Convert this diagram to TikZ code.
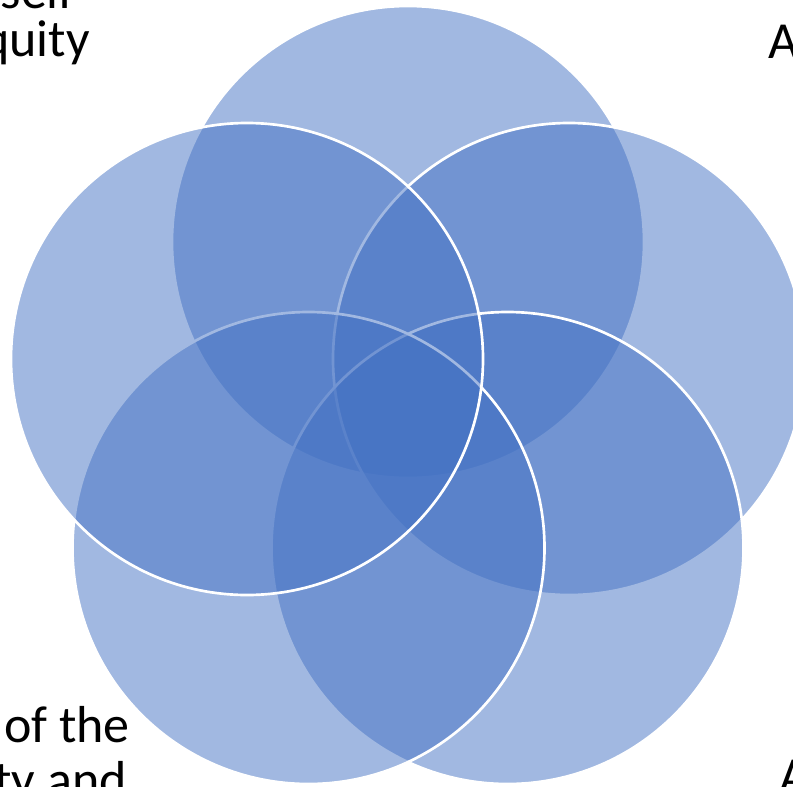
\documentclass[tikz,border=0pt]{standalone}
\usepackage{fontspec}
\setmainfont{Carlito}
\definecolor{vennblue}{HTML}{4472C4}
\begin{document}
\begin{tikzpicture}[x=0.75pt,y=-0.75pt,
  venn/.style={circle, draw=white, line width=2pt, fill=vennblue, fill opacity=0.5, draw opacity=1, inner sep=0pt, minimum size=354pt},
  lbl/.style={font=\fontsize{39}{46}\selectfont, inner sep=0pt, text=black}]
\useasboundingbox (0,0) rectangle (793,786);
\fill[white] (0,0) rectangle (793,786);
\node[venn] (ctop) at (408,242) {};
\node[venn] (cright) at (569,359) {};
\node[venn] (cbr) at (507.5,548) {};
\node[venn] (cbl) at (308.5,548) {};
\node[venn] (cleft) at (247,359) {};
\node[lbl, anchor=base east] (t1) at (75,8) {self};
\node[lbl, anchor=base east] (t2) at (90,56) {quity};
\node[lbl, anchor=base west] (t3) at (768,58) {A};
\node[lbl, anchor=base east] (t4) at (130,742) {of the};
\node[lbl, anchor=base east] (t5) at (127,797) {ty and};
\node[lbl, anchor=base west] (t6) at (779,793) {A};
\end{tikzpicture}
\end{document}
